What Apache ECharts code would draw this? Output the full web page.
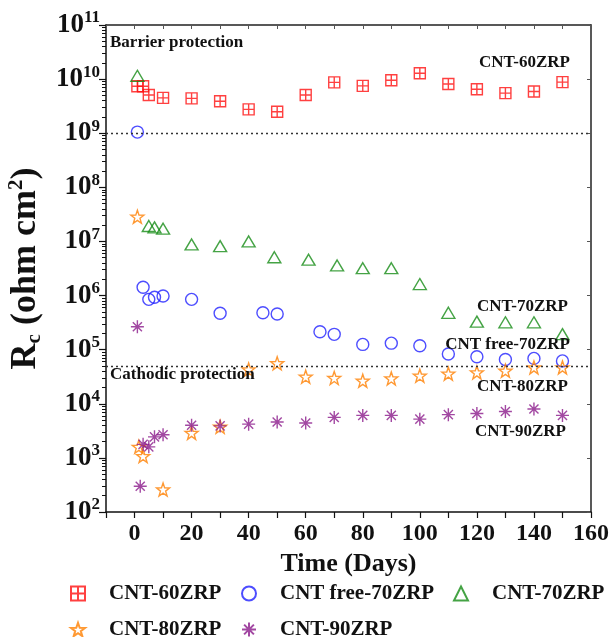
<!DOCTYPE html>
<html>
<head>
<meta charset="utf-8">
<script src="https://cdn.jsdelivr.net/npm/echarts@6/dist/echarts.min.js"></script>
<style>html,body{margin:0;padding:0;background:#fff}#c{width:613px;height:637px}</style>
</head>
<body>
<div id="c"></div>
<script>
// ---- data ----
const seriesNames = ['CNT-60ZRP', 'CNT free-70ZRP', 'CNT-70ZRP', 'CNT-80ZRP', 'CNT-90ZRP'];

const days60 = [1, 3, 5, 10, 20, 30, 40, 50, 60, 70, 80, 90, 100, 110, 120, 130, 140, 150];
const rc60 = [7.4e9, 7.4e9, 5.1e9, 4.5e9, 4.4e9, 3.9e9, 2.76e9, 2.5e9, 5.1e9, 8.7e9, 7.5e9, 9.5e9, 1.28e10, 8.1e9, 6.5e9, 5.5e9, 5.9e9, 8.8e9];

const daysFree70 = [1, 3, 5, 7, 10, 20, 30, 45, 50, 65, 70, 80, 90, 100, 110, 120, 130, 140, 150];
const rcFree70 = [1.05e9, 1.42e6, 8.5e5, 9.3e5, 9.8e5, 8.5e5, 4.7e5, 4.8e5, 4.55e5, 2.14e5, 1.92e5, 1.25e5, 1.32e5, 1.18e5, 8.3e4, 7.4e4, 6.6e4, 6.9e4, 6.2e4];

const days70 = [1, 5, 7, 10, 20, 30, 40, 49, 61, 71, 80, 90, 100, 110, 120, 130, 140, 150];
const rc70 = [1.15e10, 1.93e7, 1.82e7, 1.72e7, 8.8e6, 8.2e6, 1.0e7, 5.1e6, 4.6e6, 3.6e6, 3.2e6, 3.2e6, 1.63e6, 4.8e5, 3.3e5, 3.2e5, 3.2e5, 1.94e5];

const days80 = [1, 1.5, 3, 10, 20, 30, 40, 50, 60, 70, 80, 90, 100, 110, 120, 130, 140, 150];
const rc80 = [2.86e7, 1.6e3, 1.08e3, 2.6e2, 2.9e3, 3.76e3, 4.3e4, 5.6e4, 3.16e4, 3.0e4, 2.66e4, 2.94e4, 3.3e4, 3.6e4, 3.8e4, 4.07e4, 4.7e4, 4.7e4];

const days90 = [1, 2, 3, 5, 7, 10, 20, 30, 40, 50, 60, 70, 80, 90, 100, 110, 120, 130, 140, 150];
const rc90 = [2.65e5, 3.0e2, 1.78e3, 1.6e3, 2.45e3, 2.67e3, 4.0e3, 3.9e3, 4.2e3, 4.6e3, 4.4e3, 5.6e3, 6.1e3, 6.1e3, 5.2e3, 6.3e3, 6.6e3, 7.2e3, 8.0e3, 6.1e3];

const barrierLevel = 1e9;
const cathodicLevel = 5e4;

const xMin = -10, xMax = 160, xStep = 10;
const yMin = 1e2, yMax = 1e11;

// ---- styling ----
const FONT = '"Liberation Serif", "Times New Roman", serif';
const colors = ['#ff1010', '#2020ff', '#168c16', '#ff8000', '#8b1a8b'];
const SQUARE = 'path://M0,0L20,0L20,20L0,20ZM10,0L10,20M0,10L20,10';
const STAR = 'path://M10,0L12.35,6.76L19.51,6.91L13.8,11.24L15.88,18.09L10,14L4.12,18.09L6.2,11.24L0.49,6.91L7.65,6.76Z';
const ASTER = 'path://M10,0L10,20M0,10L20,10M3,3L17,17M3,17L17,3';
const symbols = [SQUARE, 'circle', 'triangle', STAR, ASTER];
const sizes = [11, 12, [13, 11], 13, 13];

function zip(xs, ys) { return xs.map((x, i) => [x, ys[i]]); }
const allData = [zip(days60, rc60), zip(daysFree70, rcFree70), zip(days70, rc70), zip(days80, rc80), zip(days90, rc90)];

const series = seriesNames.map((n, i) => ({
  name: n,
  type: 'scatter',
  data: allData[i],
  symbol: symbols[i],
  symbolSize: sizes[i],
  itemStyle: { color: 'rgba(0,0,0,0)', borderColor: colors[i], borderWidth: 1.4 },
  emphasis: { disabled: true },
  z: 3
}));

series[0].markLine = {
  silent: true,
  symbol: 'none',
  label: { show: false },
  lineStyle: { type: [2, 3], color: '#333', width: 1.3 },
  data: [{ yAxis: barrierLevel }, { yAxis: cathodicLevel }]
};

// legend layout: [symbol centre x, row top]
const legendPos = [[72, 578], [243, 578], [455, 578], [72, 614], [243, 614]];
const legends = seriesNames.map((n, i) => ({
  data: [n],
  left: legendPos[i][0] - 7,
  top: legendPos[i][1],
  itemWidth: 14,
  itemHeight: 14,
  selectedMode: false,
  textStyle: { fontFamily: FONT, fontWeight: 'bold', fontSize: 21, color: '#111', padding: [0, 0, 0, 19] }
}));

const annoFont = 'bold 17px ' + FONT;
function txt(t, x, y, align) {
  return { type: 'text', x: x, y: y, style: { text: t, font: annoFont, fill: '#111', align: align, verticalAlign: 'middle' }, z: 10 };
}

const option = {
  animation: false,
  backgroundColor: '#fff',
  grid: { left: 106, right: 22, top: 25, bottom: 125, outerBoundsMode: 'none', containLabel: false },
  legend: legends,
  xAxis: [{
    type: 'value', min: xMin, max: xMax, interval: xStep,
    name: 'Time (Days)', nameLocation: 'middle', nameGap: 38,
    nameTextStyle: { fontFamily: FONT, fontWeight: 'bold', fontSize: 26, color: '#111' },
    axisLine: { onZero: false, lineStyle: { color: '#111', width: 1.5 } },
    axisTick: { show: true, inside: false, length: 6, lineStyle: { color: '#111', width: 1.2 } },
    axisLabel: {
      margin: 10, fontFamily: FONT, fontWeight: 'bold', fontSize: 24, color: '#111',
      formatter: v => (v >= 0 && v % 20 === 0) ? String(v) : ''
    },
    splitLine: { show: false }
  }, {
    type: 'value', position: 'top', min: xMin, max: xMax, interval: xStep,
    axisLine: { show: true, onZero: false, lineStyle: { color: '#222', width: 1.5 } },
    axisTick: { show: true, inside: true, length: 4, lineStyle: { color: '#555' } },
    axisLabel: { show: false }, splitLine: { show: false }
  }],
  yAxis: [{
    type: 'log', logBase: 10, min: yMin, max: yMax,
    name: '{b|R}{sub|c}{b| (ohm cm}{sup|2}{b|)}',
    nameLocation: 'middle', nameGap: 30, nameRotate: 90,
    nameTextStyle: {
      fontFamily: FONT, fontWeight: 'bold', fontSize: 36, color: '#111',
      rich: {
        b: { fontFamily: FONT, fontWeight: 'bold', fontSize: 36, color: '#111' },
        sub: { fontFamily: FONT, fontWeight: 'bold', fontSize: 21, color: '#111', padding: [17, 0, 0, 0] },
        sup: { fontFamily: FONT, fontWeight: 'bold', fontSize: 21, color: '#111', padding: [0, 0, 20, 0] }
      }
    },
    axisLine: { onZero: false, lineStyle: { color: '#111', width: 1.5 } },
    axisTick: { show: true, inside: false, length: 7, lineStyle: { color: '#111', width: 1.2 } },
    minorTick: { show: true, splitNumber: 9, length: 4, lineStyle: { color: '#111' } },
    axisLabel: {
      margin: 6, color: '#111',
      formatter: v => '{b|10}{s|' + Math.round(Math.log10(v)) + '}',
      rich: {
        b: { fontFamily: FONT, fontWeight: 'bold', fontSize: 27, color: '#111' },
        s: { fontFamily: FONT, fontWeight: 'bold', fontSize: 17, color: '#111', padding: [0, 0, 14, 0] }
      }
    },
    splitLine: { show: false }
  }, {
    type: 'log', logBase: 10, min: yMin, max: yMax, position: 'right',
    axisLine: { show: true, onZero: false, lineStyle: { color: '#222', width: 1.5 } },
    axisTick: { show: true, inside: true, length: 4, lineStyle: { color: '#555' } },
    axisLabel: { show: false }, splitLine: { show: false }
  }],
  graphic: [
    txt('Barrier protection', 110, 43, 'left'),
    txt('CNT-60ZRP', 570, 63, 'right'),
    txt('CNT-70ZRP', 568, 307, 'right'),
    txt('CNT free-70ZRP', 570, 345, 'right'),
    txt('Cathodic protection', 110, 375, 'left'),
    txt('CNT-80ZRP', 568, 387, 'right'),
    txt('CNT-90ZRP', 566, 432, 'right')
  ],
  series: series
};

const chart = echarts.init(document.getElementById('c'), null, { renderer: 'canvas' });
chart.setOption(option);
</script>
</body>
</html>
